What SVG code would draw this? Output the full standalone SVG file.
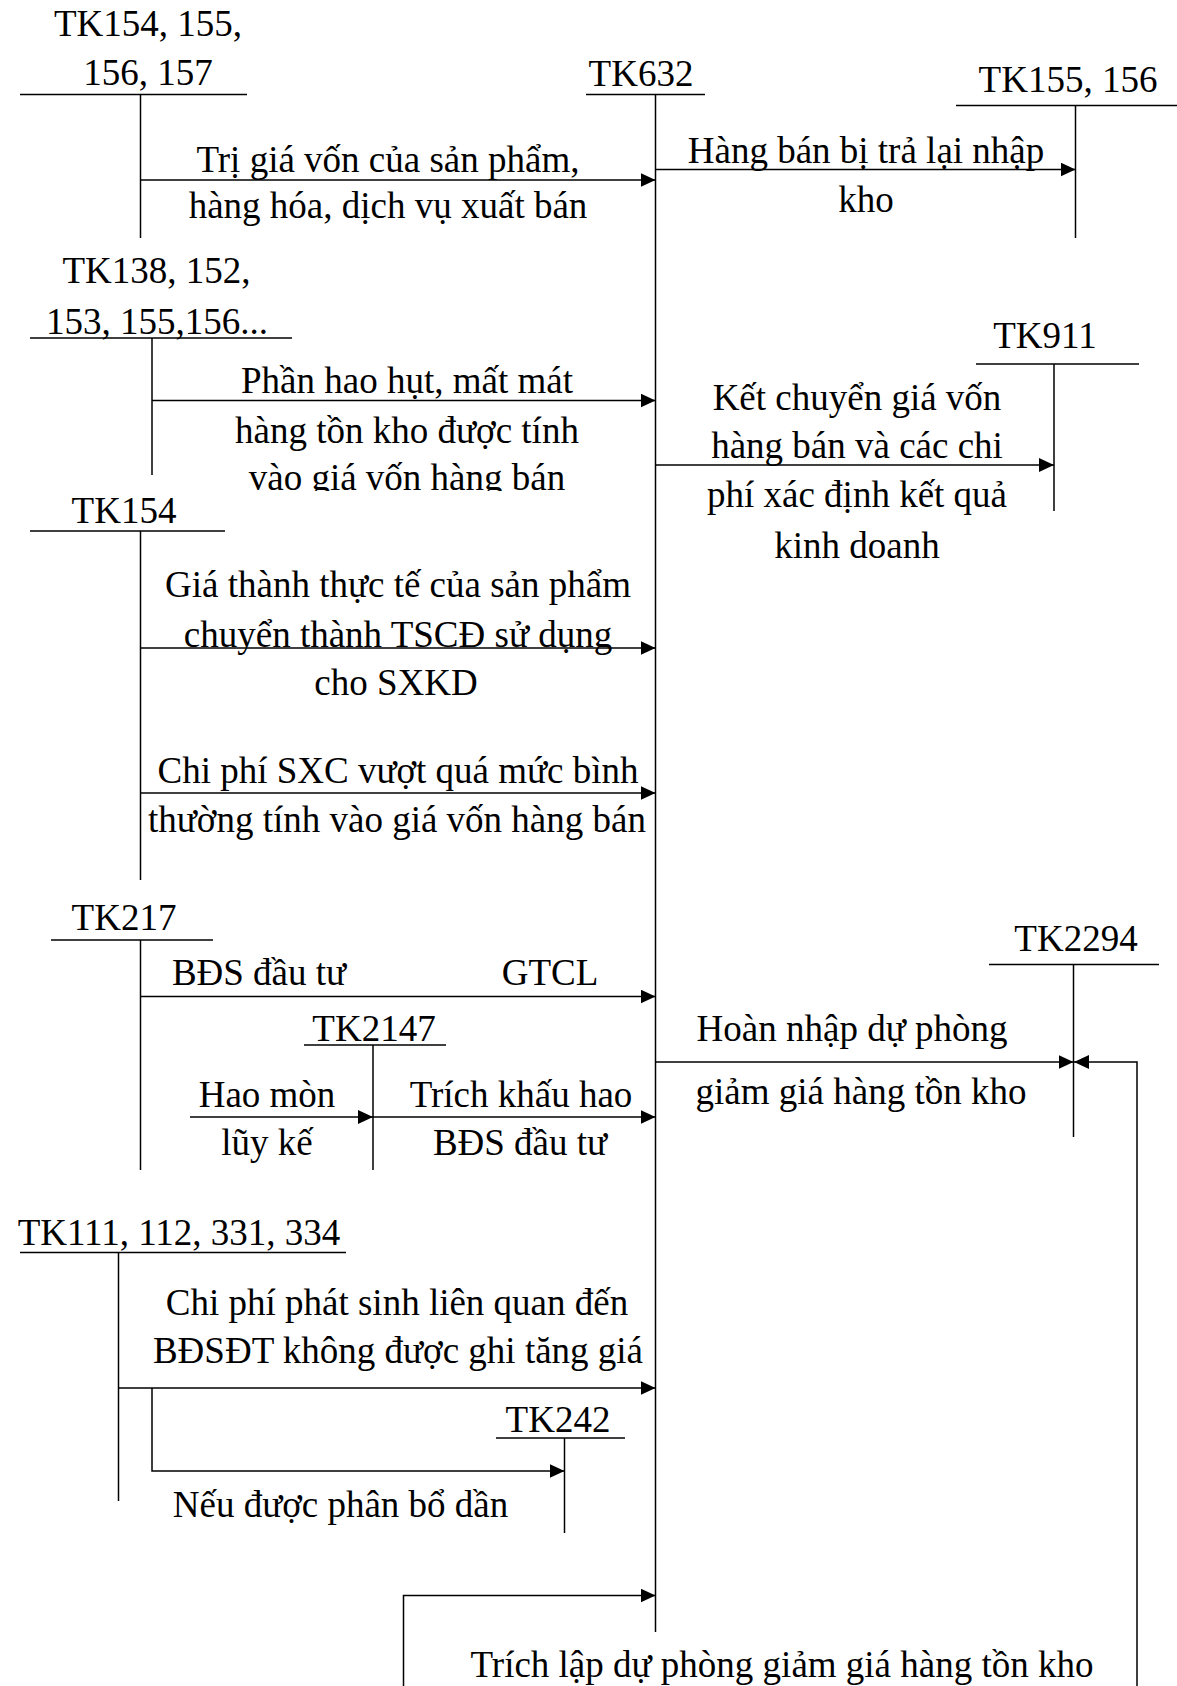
<svg xmlns="http://www.w3.org/2000/svg" width="1177" height="1686" viewBox="0 0 1177 1686">
<style>
  text { font-family: "Liberation Serif", "Times New Roman", serif; font-size: 37px; fill: #000; text-anchor: middle; }
  .ln { stroke: #000; stroke-width: 1.5; fill: none; }
  .ar { stroke: #000; stroke-width: 1.5; fill: none; marker-end: url(#arrow); }
</style>
<defs>
  <marker id="arrow" markerUnits="userSpaceOnUse" markerWidth="16" markerHeight="14" refX="15" refY="7" orient="auto-start-reverse">
    <path d="M0,0 L15,7 L0,14 z" fill="#000"/>
  </marker>
  <clipPath id="clipHaoHut" clipPathUnits="userSpaceOnUse">
    <rect x="0" y="0" width="1177" height="491"/>
  </clipPath>
</defs>
<rect width="1177" height="1686" fill="#fff"/>

<g id="nodes">
  <g id="tk154-155-156-157">
    <text x="148" y="36">TK154, 155,</text>
    <text x="148" y="85">156, 157</text>
    <line class="ln" x1="20" y1="94.5" x2="247" y2="94.5"/>
    <line class="ln" x1="140.5" y1="94.5" x2="140.5" y2="238"/>
  </g>
  <g id="tk632">
    <text x="641" y="86">TK632</text>
    <line class="ln" x1="586" y1="94.5" x2="705" y2="94.5"/>
    <line class="ln" x1="655.5" y1="94.5" x2="655.5" y2="1632"/>
  </g>
  <g id="tk155-156">
    <text x="1068" y="92">TK155, 156</text>
    <line class="ln" x1="956" y1="105.5" x2="1177" y2="105.5"/>
    <line class="ln" x1="1075.5" y1="105.5" x2="1075.5" y2="238"/>
  </g>
  <g id="tk138-152-153-155-156">
    <text x="156.5" y="283">TK138, 152,</text>
    <text x="157" y="334">153, 155,156...</text>
    <line class="ln" x1="30" y1="338" x2="292" y2="338"/>
    <line class="ln" x1="152" y1="338" x2="152" y2="475"/>
  </g>
  <g id="tk911">
    <text x="1045" y="348">TK911</text>
    <line class="ln" x1="976" y1="364" x2="1139" y2="364"/>
    <line class="ln" x1="1054" y1="364" x2="1054" y2="511"/>
  </g>
  <g id="tk154">
    <text x="124" y="523">TK154</text>
    <line class="ln" x1="30" y1="531" x2="225" y2="531"/>
    <line class="ln" x1="140.5" y1="531" x2="140.5" y2="880"/>
  </g>
  <g id="tk217">
    <text x="124" y="930">TK217</text>
    <line class="ln" x1="51" y1="940" x2="213" y2="940"/>
    <line class="ln" x1="140.5" y1="940" x2="140.5" y2="1170"/>
  </g>
  <g id="tk2147">
    <text x="374" y="1041">TK2147</text>
    <line class="ln" x1="304" y1="1045" x2="446" y2="1045"/>
    <line class="ln" x1="373" y1="1045" x2="373" y2="1170"/>
  </g>
  <g id="tk2294">
    <text x="1076" y="951">TK2294</text>
    <line class="ln" x1="989" y1="964.5" x2="1159" y2="964.5"/>
    <line class="ln" x1="1073.5" y1="964.5" x2="1073.5" y2="1137"/>
  </g>
  <g id="tk111-112-331-334">
    <text x="179" y="1245">TK111, 112, 331, 334</text>
    <line class="ln" x1="20" y1="1252.5" x2="346" y2="1252.5"/>
    <line class="ln" x1="118.5" y1="1252.5" x2="118.5" y2="1501"/>
  </g>
  <g id="tk242">
    <text x="558" y="1432">TK242</text>
    <line class="ln" x1="496" y1="1438" x2="625" y2="1438"/>
    <line class="ln" x1="564.5" y1="1438" x2="564.5" y2="1533"/>
  </g>
</g>

<g id="connectors">
  <line class="ar" x1="140.5" y1="180" x2="655.5" y2="180"/>
  <line class="ar" x1="655.5" y1="169.5" x2="1075.5" y2="169.5"/>
  <line class="ar" x1="152" y1="400.5" x2="655.5" y2="400.5"/>
  <line class="ar" x1="655.5" y1="465" x2="1054" y2="465"/>
  <line class="ar" x1="140.5" y1="648" x2="655.5" y2="648"/>
  <line class="ar" x1="140.5" y1="793" x2="655.5" y2="793"/>
  <line class="ar" x1="140.5" y1="996.5" x2="655.5" y2="996.5"/>
  <line class="ar" x1="190" y1="1117" x2="373" y2="1117"/>
  <line class="ar" x1="373" y1="1117" x2="655.5" y2="1117"/>
  <line class="ar" x1="655.5" y1="1062" x2="1073.5" y2="1062"/>
  <path class="ar" d="M1074,1062 H1137 V1700 H403.5 V1595.5 H655.5" marker-start="url(#arrow)"/>
  <line class="ar" x1="118.5" y1="1388" x2="655.5" y2="1388"/>
  <path class="ar" d="M152,1388 V1471 H564.5"/>
</g>

<g id="connector-labels">
  <text x="388" y="172">Trị giá vốn của sản phẩm,</text>
  <text x="388" y="218">hàng hóa, dịch vụ xuất bán</text>
  <text x="866" y="163">Hàng bán bị trả lại nhập</text>
  <text x="866" y="212">kho</text>
  <text x="407" y="393">Phần hao hụt, mất mát</text>
  <text x="407" y="443">hàng tồn kho được tính</text>
  <g clip-path="url(#clipHaoHut)">
    <text x="407" y="490">vào giá vốn hàng bán</text>
  </g>
  <text x="857" y="410">Kết chuyển giá vốn</text>
  <text x="857" y="458">hàng bán và các chi</text>
  <text x="857" y="507">phí xác định kết quả</text>
  <text x="857" y="558">kinh doanh</text>
  <text x="398" y="597">Giá thành thực tế của sản phẩm</text>
  <text x="398" y="647">chuyển thành TSCĐ sử dụng</text>
  <text x="396" y="695">cho SXKD</text>
  <text x="398" y="783">Chi phí SXC vượt quá mức bình</text>
  <text x="397" y="832">thường tính vào giá vốn hàng bán</text>
  <text x="259" y="985">BĐS đầu tư</text>
  <text x="550" y="985">GTCL</text>
  <text x="267" y="1107">Hao mòn</text>
  <text x="267" y="1155">lũy kế</text>
  <text x="521" y="1107">Trích khấu hao</text>
  <text x="520" y="1155">BĐS đầu tư</text>
  <text x="852" y="1041">Hoàn nhập dự phòng</text>
  <text x="861" y="1104">giảm giá hàng tồn kho</text>
  <text x="397" y="1315">Chi phí phát sinh liên quan đến</text>
  <text x="398" y="1363">BĐSĐT không được ghi tăng giá</text>
  <text x="340.5" y="1517">Nếu được phân bổ dần</text>
  <text x="782" y="1677">Trích lập dự phòng giảm giá hàng tồn kho</text>
</g>
</svg>
